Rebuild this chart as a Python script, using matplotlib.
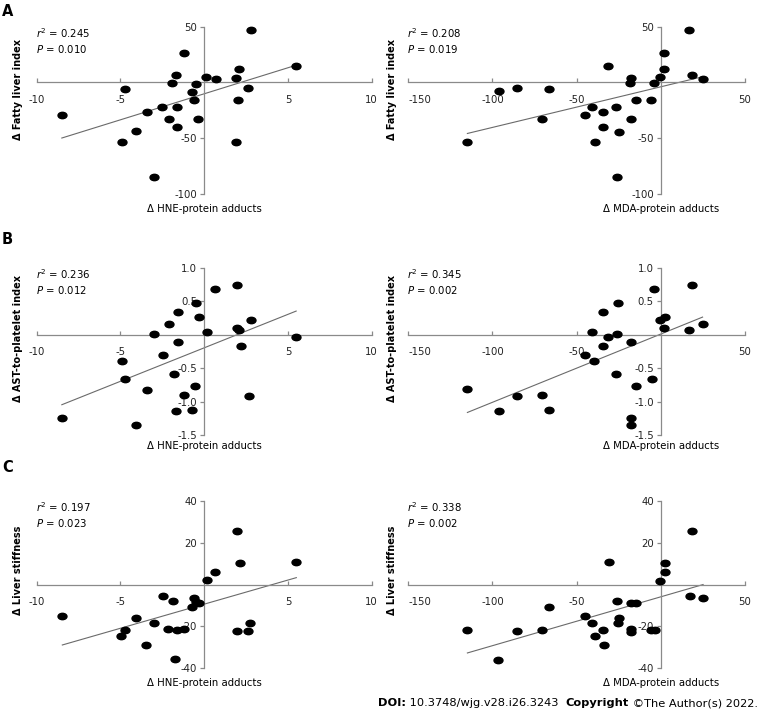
import matplotlib
matplotlib.use("Agg")
import matplotlib.pyplot as plt
import numpy as np
from matplotlib.markers import MarkerStyle
from matplotlib.transforms import Affine2D

plt.rcParams["font.family"] = "DejaVu Sans"
plt.rcParams["axes.unicode_minus"] = False
plt.rcParams["mathtext.fontset"] = "dejavusans"

# A: fatty liver index
hne_fli_x = [2.8, -1.2, 5.5, 2.1, -1.7, 0.1, 0.7, 1.9, -1.9, -0.5, -4.7, 2.6, -0.7,
             -0.6, 2.0, -2.5, -1.6, -3.4, -8.5, -2.1, -0.4, -1.6, -4.1, -4.9, 1.9, -3.0]
hne_fli_y = [47, 26, 14.6, 12.5, 6.6, 4.8, 2.7, 3.6, -0.9, -1.2, -5.7, -5.4, -8.1,
             -15.8, -15.5, -21.8, -22.1, -26.3, -29, -32.8, -33.1, -39.7, -43.9, -53.4, -53.4, -84.5]
mda_fli_x = [16.8, 1.8, -31.1, 1.8, -17.8, -0.6, 18.4, 24.8, -18.2, -3.8, -96.4, -85.5, -66.7,
             -14.9, -5.7, -41.0, -26.7, -34.1, -45.1, -70.7, -18.0, -34.5, -25.1, -114.9, -39.2, -25.9]
mda_fli_y = [47, 26, 14.6, 12.5, 3.6, 4.8, 6.6, 2.7, -0.9, -0.9, -7.8, -5.4, -5.7,
             -16.1, -15.5, -21.8, -22.1, -26.3, -29, -32.8, -32.8, -40, -44.2, -53.4, -53.4, -84.5]

# B: AST-to-platelet index
hne_apri_x = [1.95, 0.66, -0.5, -1.59, -0.34, -2.11, 2.77, -3.0, 0.16, 1.95, 2.05, 5.49, -1.55,
              2.17, -2.43, -4.92, -1.81, -4.72, -3.44, -0.54, -1.21, 2.65, -1.67, -0.7, -8.5, -4.06]
hne_apri_y = [0.735, 0.675, 0.475, 0.345, 0.265, 0.155, 0.215, 0.015, 0.04, 0.095, 0.065, -0.03, -0.105,
              -0.165, -0.31, -0.4, -0.59, -0.66, -0.825, -0.77, -0.895, -0.92, -1.145, -1.125, -1.25, -1.345]
mda_apri_x = [18.4, -4.0, -25.5, -34.5, 2.4, -0.6, 1.8, 24.8, 16.8, -41.0, -25.9, -31.1, -18.0,
              -34.1, -45.0, -39.4, -26.7, -5.5, -14.9, -114.9, -70.7, -85.5, -96.4, -66.7, -17.8, -18.0]
mda_apri_y = [0.735, 0.675, 0.475, 0.345, 0.265, 0.215, 0.1, 0.155, 0.065, 0.04, 0.015, -0.035, -0.105,
              -0.165, -0.305, -0.4, -0.59, -0.66, -0.77, -0.82, -0.895, -0.92, -1.145, -1.125, -1.245, -1.345]

# C: liver stiffness
hne_ls_x = [1.95, 5.5, 2.13, 0.64, 0.14, -2.45, -1.85, -0.6, -0.5, -0.34, -0.7, -8.47,
            -4.1, -3.02, 2.72, -2.17, -1.65, -1.23, -4.73, 1.95, 2.6, -4.95, -3.46, -1.73]
hne_ls_y = [25.7, 10.6, 10.2, 6.2, 2.1, -5.2, -7.9, -6.3, -8.4, -9.0, -10.6, -15.1,
            -15.9, -18.4, -18.4, -21.0, -21.6, -21.4, -21.9, -22.2, -22.4, -24.4, -28.9, -35.7]
mda_ls_x = [18.8, -30.7, 2.4, 2.4, -0.2, 17.2, 25.1, -26.3, -17.8, -14.5, -66.7, -44.8, -25.1,
            -41.0, -25.5, -18.0, -18.0, -5.7, -3.2, -114.9, -85.5, -70.7, -34.1, -39.2, -33.9, -96.6]
mda_ls_y = [25.7, 10.6, 10.2, 6.2, 1.9, -5.4, -6.3, -7.9, -9.0, -9.0, -10.8, -15.2, -15.9,
            -18.4, -18.4, -21.1, -22.5, -21.9, -21.6, -21.9, -22.4, -21.6, -21.7, -24.4, -28.9, -35.9]

r2_values = ["0.245", "0.208", "0.236", "0.345", "0.197", "0.338"]
p_values = ["0.010", "0.019", "0.012", "0.002", "0.023", "0.002"]

hne_ticks = [-10, -5, 5, 10]
mda_ticks = [-150, -100, -50, 50]
fli_ticks = [50, -50, -100]
apri_ticks = [1.0, 0.5, -0.5, -1.0, -1.5]
ls_ticks = [40, 20, -20, -40]

row_labels = ["A", "B", "C"]
y_titles = ["\u0394 Fatty liver index", "\u0394 AST-to-platelet index", "\u0394 Liver stiffness"]
x_titles = ["\u0394 HNE-protein adducts", "\u0394 MDA-protein adducts"]

W, H = 758, 710
fig = plt.figure(figsize=(W / 100, H / 100), dpi=100)

spine_col = "#8a8a8a"
dot = MarkerStyle("o", transform=Affine2D().scale(1.4, 1.0))


def px(x, y):
    """pixel position -> figure fraction"""
    return x / W, 1 - y / H


def panel(rect, xs, ys, xlim, ylim, xticks, yticks, yfmt, r2, p):
    l, t, r, b = rect
    ax = fig.add_axes([l / W, 1 - b / H, (r - l) / W, (b - t) / H])
    ax.set_xlim(xlim)
    ax.set_ylim(ylim)
    for s in ["top", "right"]:
        ax.spines[s].set_visible(False)
    for s in ["left", "bottom"]:
        ax.spines[s].set_position(("data", 0))
        ax.spines[s].set_color(spine_col)
        ax.spines[s].set_linewidth(0.9)
    ax.set_xticks(xticks)
    ax.set_xticklabels([str(v) for v in xticks])
    ax.set_yticks(yticks)
    ax.set_yticklabels([yfmt.format(v) for v in yticks])
    ax.tick_params(axis="x", direction="in", length=3, pad=9, width=0.9,
                   color=spine_col, labelsize=7.3, labelcolor="#222222")
    ax.tick_params(axis="y", direction="out", length=3, pad=2, width=0.9,
                   color=spine_col, labelsize=7.3, labelcolor="#222222")
    ax.patch.set_alpha(0)

    xs = np.array(xs)
    ys = np.array(ys)
    k, c = np.polyfit(xs, ys, 1)
    lx = np.array([xs.min(), xs.max()])
    ax.plot(lx, k * lx + c, color="#6a6a6a", lw=0.8, zorder=2)
    ax.plot(xs, ys, linestyle="none", marker=dot, markersize=4.6,
            color="black", clip_on=False, zorder=3)

    fig.text(*px(l - 1, t + 6), "$r^2$ = " + r2, fontsize=7.3, va="center", ha="left")
    fig.text(*px(l - 1, t + 22), "$P$ = " + p, fontsize=7.3, va="center", ha="left")
    return ax


left_x = (36.7, 371.7)
right_x = (408.3, 745.0)
rows_y = [(26.7, 194.0), (267.7, 435.0), (501.0, 668.3)]
ylims = [(-100, 50), (-1.5, 1.0), (-40, 40)]
yticks_all = [fli_ticks, apri_ticks, ls_ticks]
yfmts = ["{:g}", "{:.1f}", "{:g}"]
data = [(hne_fli_x, hne_fli_y, mda_fli_x, mda_fli_y),
        (hne_apri_x, hne_apri_y, mda_apri_x, mda_apri_y),
        (hne_ls_x, hne_ls_y, mda_ls_x, mda_ls_y)]
ylabel_y = [90, 338, 570]
xlabel_y = [209, 446, 683]
letter_y = [11, 240, 468]

for i in range(3):
    t, b = rows_y[i]
    hx, hy, mx, my = data[i]
    panel((left_x[0], t, left_x[1], b), hx, hy, (-10, 10), ylims[i],
          hne_ticks, yticks_all[i], yfmts[i], r2_values[2 * i], p_values[2 * i])
    ax_r = panel((right_x[0], t, right_x[1], b), mx, my, (-150, 50), ylims[i],
                 mda_ticks, yticks_all[i], yfmts[i], r2_values[2 * i + 1], p_values[2 * i + 1])
    # the -150 label is pushed right of its tick in the original
    ax_r.get_xticklabels()[0].set_horizontalalignment("left")

    fig.text(*px(2, letter_y[i]), row_labels[i], fontsize=10.5, fontweight="bold",
             va="center", ha="left")
    fig.text(*px(18, ylabel_y[i]), y_titles[i], fontsize=7.0, fontweight="bold",
             rotation=90, va="center", ha="center")
    fig.text(*px(392, ylabel_y[i]), y_titles[i], fontsize=7.0, fontweight="bold",
             rotation=90, va="center", ha="center")
    # x titles sit under the zero line of each panel
    fig.text(*px(204, xlabel_y[i]), x_titles[0], fontsize=7.3, va="center", ha="center")
    fig.text(*px(661, xlabel_y[i]), x_titles[1], fontsize=7.3, va="center", ha="center")

# footer, pieces chained left to right
pieces = [("DOI:", "bold"), (" 10.3748/wjg.v28.i26.3243  ", "normal"),
          ("Copyright", "bold"), (" \u00a9The Author(s) 2022.", "normal")]
anchor = fig.text(*px(378, 706), pieces[0][0], fontsize=8.2, fontweight=pieces[0][1],
                  va="baseline", ha="left")
for txt, wt in pieces[1:]:
    anchor = fig.add_artist(plt.Annotation(txt, xy=(1, 0), xycoords=anchor,
                                           va="bottom", ha="left", fontsize=8.2,
                                           fontweight=wt))

fig.savefig("out.png", dpi=100)
